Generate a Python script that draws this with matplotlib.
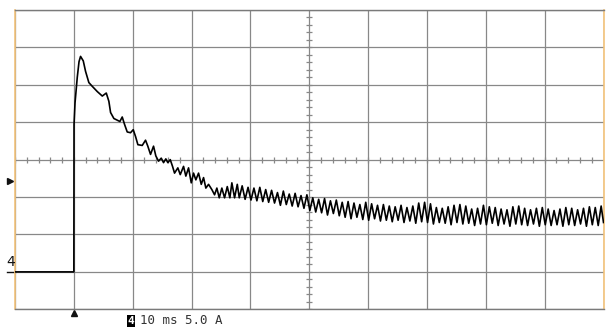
"""Oscilloscope capture: inrush current of channel 4 (10 ms/div, 5 A/div)."""

import matplotlib
matplotlib.use("Agg")
import matplotlib.pyplot as plt
import numpy as np

# Screen settings
TIME_PER_DIV = 10.0   # ms
AMP_PER_DIV = 5.0     # A
T_LEFT = -10.0        # trigger sits one division in from the left edge
I_BOTTOM = -5.0       # ground marker sits one division above the bottom
TRIGGER_LEVEL = 12.2  # A, the ▶ marker on the left

# Trace: time in ms, current in A
time_ms = [
    -10.0, 0.0, 0.03, 0.2, 0.58, 0.88, 1.14, 1.6, 1.99, 2.55, 3.13, 3.98, 4.83,
    5.51, 5.95, 6.24, 6.8, 7.82, 8.22, 8.62, 9.07, 9.63, 10.09, 10.48, 10.88,
    11.62, 12.18, 12.57, 13.03, 13.54, 13.93, 14.39, 14.85, 15.24, 15.63, 15.97,
    16.38, 16.77, 17.11, 17.67, 18.08, 18.64, 19.03, 19.49, 19.95, 20.34, 20.73,
    21.19, 21.65, 22.04, 22.43, 22.89, 23.45, 23.91, 24.3, 24.71, 25.15, 25.61,
    26.07, 26.51, 26.85, 27.31, 27.77, 28.11,
    28.6, 29.1, 29.6, 30.1, 30.6, 31.1, 31.6, 32.1, 32.6, 33.1,
    33.6, 34.1, 34.6, 35.1, 35.6, 36.1, 36.6, 37.1, 37.6, 38.1,
    38.6, 39.1, 39.6, 40.1, 40.6, 41.1, 41.6, 42.1, 42.6, 43.1,
    43.6, 44.1, 44.6, 45.1, 45.6, 46.1, 46.6, 47.1, 47.6, 48.1,
    48.6, 49.1, 49.6, 50.1, 50.6, 51.1, 51.6, 52.1, 52.6, 53.1,
    53.6, 54.1, 54.6, 55.1, 55.6, 56.1, 56.6, 57.1, 57.6, 58.1,
    58.6, 59.1, 59.6, 60.1, 60.6, 61.1, 61.6, 62.1, 62.6, 63.1,
    63.6, 64.1, 64.6, 65.1, 65.6, 66.1, 66.6, 67.1, 67.6, 68.1,
    68.6, 69.1, 69.6, 70.1, 70.6, 71.1, 71.6, 72.1, 72.6, 73.1,
    73.6, 74.1, 74.6, 75.1, 75.6, 76.1, 76.6, 77.1, 77.6, 78.1,
    78.6, 79.1, 79.6, 80.1, 80.6, 81.1, 81.6, 82.1, 82.6, 83.1,
    83.6, 84.1, 84.6, 85.1, 85.6, 86.1, 86.6, 87.1, 87.6, 88.1,
    88.6, 89.1, 89.6, 90.0,
]
current_a = [
    0.0, 0.0, 19.7, 22.6, 26.0, 28.1, 28.8, 28.2, 26.8, 25.3, 24.8, 24.1, 23.5,
    23.9, 22.8, 21.3, 20.5, 20.1, 20.7, 19.7, 18.7, 18.6, 19.0, 18.1, 17.0,
    16.9, 17.6, 16.8, 15.7, 16.8, 15.5, 14.8, 15.2, 14.6, 15.1, 14.6,
    15.0, 14.1, 13.2, 13.9, 13.0, 14.1, 12.8, 13.9, 11.9, 13.2, 12.3,
    13.2, 11.7, 12.6, 11.2, 11.7, 11.0, 10.3, 11.2, 9.9, 11.2, 9.9,
    11.4, 9.9, 11.9, 9.9, 11.7, 9.9,
    11.5, 9.7, 11.3, 9.6, 11.2, 9.5, 11.3, 9.4, 11.0, 9.3,
    10.9, 9.2, 10.6, 8.9, 10.8, 9.0, 10.4, 8.8, 10.5, 8.7,
    10.2, 8.5, 10.3, 8.2, 9.9, 8.0, 9.7, 7.9, 9.8, 7.6,
    9.5, 7.8, 9.6, 7.5, 9.3, 7.3, 9.4, 7.1, 9.2, 7.3,
    9.0, 7.0, 9.3, 6.9, 9.1, 7.1, 8.9, 6.8, 9.0, 6.9,
    8.8, 6.7, 8.7, 6.9, 8.9, 6.6, 8.6, 6.8, 8.8, 6.5,
    9.2, 6.7, 9.3, 6.6, 9.1, 6.4, 8.6, 6.6, 8.5, 6.5,
    8.7, 6.3, 8.9, 6.6, 9.0, 6.4, 8.8, 6.5, 8.4, 6.2,
    8.5, 6.4, 8.9, 6.3, 8.7, 6.5, 8.6, 6.2, 8.4, 6.4,
    8.3, 6.1, 8.7, 6.4, 8.8, 6.3, 8.5, 6.2, 8.3, 6.4,
    8.5, 6.1, 8.6, 6.3, 8.4, 6.2, 8.2, 6.3, 8.4, 6.1,
    8.6, 6.3, 8.5, 6.2, 8.3, 6.4, 8.5, 6.1, 8.7, 6.3,
    8.6, 6.2, 8.8, 6.6,
]

GRID_COLOR = "#888888"
EDGE_COLOR = "#f2c27a"


def draw_graticule(ax):
    """10 x 8 division grid with a ticked crosshair through the centre."""
    t_right = T_LEFT + 10 * TIME_PER_DIV
    i_top = I_BOTTOM + 8 * AMP_PER_DIV
    ax.set_xlim(T_LEFT, t_right)
    ax.set_ylim(I_BOTTOM, i_top)
    ax.set_xticks(np.arange(T_LEFT, t_right + 0.1, TIME_PER_DIV))
    ax.set_yticks(np.arange(I_BOTTOM, i_top + 0.1, AMP_PER_DIV))
    ax.grid(True, color=GRID_COLOR, lw=0.9)
    ax.tick_params(length=0, labelbottom=False, labelleft=False)

    t_mid = T_LEFT + 5 * TIME_PER_DIV
    i_mid = I_BOTTOM + 4 * AMP_PER_DIV
    # minor ticks: 5 per division along both centre lines
    tx = np.arange(T_LEFT, t_right, TIME_PER_DIV / 5)
    iy = np.arange(I_BOTTOM, i_top, AMP_PER_DIV / 5)
    ax.vlines(tx, i_mid - 0.4, i_mid + 0.4, color=GRID_COLOR, lw=0.9)
    ax.hlines(iy, t_mid - 0.55, t_mid + 0.55, color=GRID_COLOR, lw=0.9)

    for side in ("left", "right"):
        ax.spines[side].set_color(EDGE_COLOR)
        ax.spines[side].set_linewidth(1.2)
    for side in ("top", "bottom"):
        ax.spines[side].set_color("#7a7a7a")
        ax.spines[side].set_linewidth(1.0)


def draw_markers(fig, ax):
    """Channel, trigger and readout markers around the screen."""
    # channel 4 ground reference
    ax.text(T_LEFT - 0.75, 0.35, "4", fontsize=10, color="#111111",
            ha="center", va="bottom", clip_on=False)
    ax.plot([T_LEFT - 1.35, T_LEFT], [0, 0], color="#111111", lw=1.0,
            clip_on=False)
    # trigger level and trigger position
    ax.plot(T_LEFT - 0.85, TRIGGER_LEVEL, marker=">", ms=4, color="#111111",
            clip_on=False)
    ax.plot(0, I_BOTTOM - 0.45, marker="^", ms=4, color="#111111",
            clip_on=False)

    # readout under the screen
    fig.text(131 / 612, 1 - 321 / 330, "4", fontsize=8, color="white",
             family="DejaVu Sans Mono", weight="bold", ha="center", va="center",
             bbox=dict(boxstyle="square,pad=0.08", fc="black", ec="none"))
    fig.text(140 / 612, 1 - 321 / 330, "10 ms 5.0 A", fontsize=9,
             color="#333333", family="DejaVu Sans Mono", ha="left",
             va="center")


def main():
    fig = plt.figure(figsize=(6.12, 3.30), dpi=100)
    fig.patch.set_facecolor("white")
    ax = fig.add_axes([15 / 612, 20.7 / 330, 588.5 / 612, 299.3 / 330])

    draw_graticule(ax)
    ax.plot(time_ms, current_a, color="black", lw=1.2, zorder=5)
    draw_markers(fig, ax)

    fig.savefig("out.png", dpi=100)
    plt.close(fig)


if __name__ == "__main__":
    main()
